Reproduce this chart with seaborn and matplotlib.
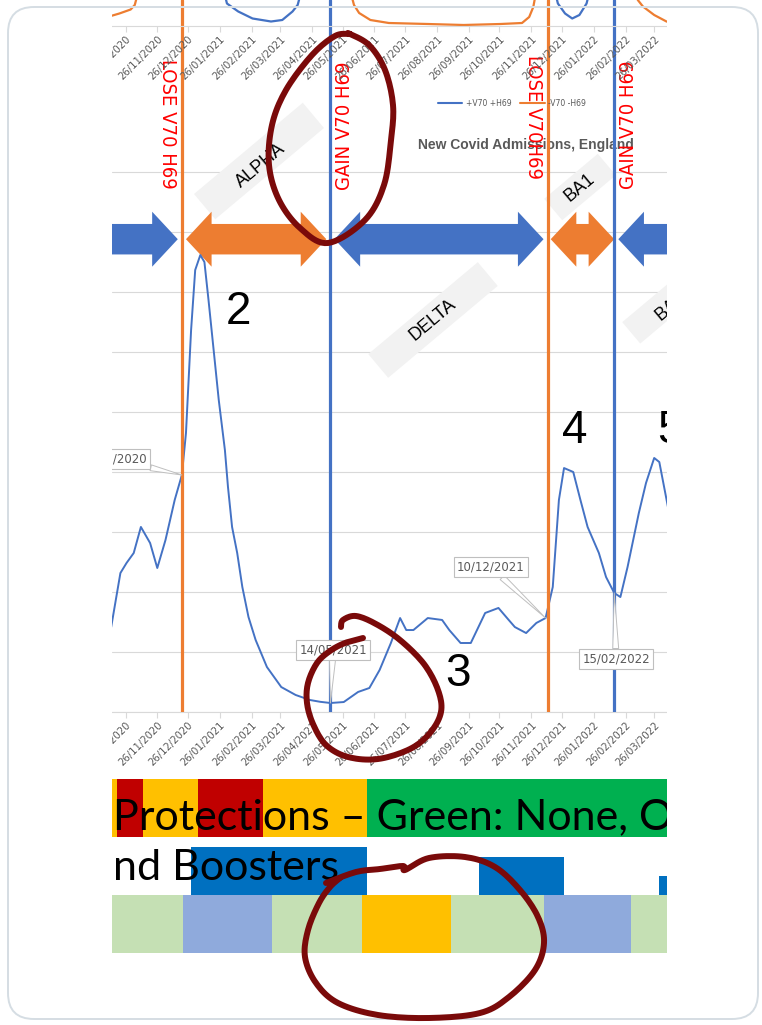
import numpy as np
import pandas as pd
import matplotlib
matplotlib.use('Agg')
import matplotlib.pyplot as plt
import matplotlib.dates as mdates
import matplotlib.transforms as mtransforms
from matplotlib.patches import Polygon, Rectangle, FancyBboxPatch
from matplotlib.lines import Line2D
from matplotlib import font_manager
import seaborn as sns

sns.set_style("white")
plt.rcParams['font.family'] = ['DejaVu Sans']

W, H = 762, 1025
BLUE, ORANGE = '#4472C4', '#ED7D31'

# ---------------- data ----------------
# New Covid admissions, England (daily, 7-day smoothed)
adm_dates = ['2020-10-12', '2020-10-21', '2020-10-27', '2020-11-03', '2020-11-10', '2020-11-19',
             '2020-11-26', '2020-12-04', '2020-12-13', '2020-12-20', '2020-12-24', '2020-12-29',
             '2021-01-02', '2021-01-07', '2021-01-11', '2021-01-15', '2021-01-20', '2021-01-25',
             '2021-01-31', '2021-02-03', '2021-02-07', '2021-02-12', '2021-02-17', '2021-02-23',
             '2021-03-02', '2021-03-13', '2021-03-27', '2021-04-10', '2021-04-24', '2021-05-04',
             '2021-05-14', '2021-05-27', '2021-06-10', '2021-06-21', '2021-07-01', '2021-07-12',
             '2021-07-21', '2021-07-27', '2021-08-03', '2021-08-17', '2021-08-31', '2021-09-07',
             '2021-09-18', '2021-09-28', '2021-10-12', '2021-10-25', '2021-11-04', '2021-11-10',
             '2021-11-21', '2021-12-01', '2021-12-10', '2021-12-17', '2021-12-23', '2021-12-28',
             '2022-01-06', '2022-01-13', '2022-01-20', '2022-01-31', '2022-02-07', '2022-02-15',
             '2022-02-21', '2022-02-28', '2022-03-11', '2022-03-18', '2022-03-26', '2022-03-31',
             '2022-04-09']
adm_values = [708, 1158, 1242, 1325, 1542, 1408,
              1200, 1433, 1767, 1975, 2325, 3183,
              3683, 3808, 3750, 3433, 3017, 2600,
              2183, 1875, 1542, 1325, 1042, 792,
              600, 375, 208, 142, 100, 85,
              75, 83, 167, 200, 350, 575,
              783, 683, 683, 783, 767, 683,
              575, 575, 825, 867, 767, 708,
              658, 742, 783, 1042, 1767, 2033,
              2000, 1767, 1542, 1325, 1125, 992,
              958, 1208, 1658, 1908, 2117, 2083,
              1683]

# upper chart (share of sequenced cases, %), only its bottom edge is visible
plus_dates = ['2020-09-25', '2021-01-20', '2021-01-30', '2021-02-02', '2021-02-13', '2021-02-27',
              '2021-03-17', '2021-03-28', '2021-04-07', '2021-04-12', '2021-04-15', '2021-05-01',
              '2021-06-15', '2021-11-15', '2021-12-10', '2021-12-19', '2021-12-22', '2021-12-29',
              '2022-01-05', '2022-01-12', '2022-01-19', '2022-01-22', '2022-02-05', '2022-04-20']
plus_pct = [60, 30, 7, 4.5, 2.9, 1.5,
            0.9, 1.2, 2.9, 4.2, 6.5, 40,
            95, 95, 30, 7, 4.5, 2.5,
            1.5, 2.2, 4.5, 7, 40, 60]
minus_dates = ['2020-10-10', '2020-10-20', '2020-10-31', '2020-11-04', '2020-11-07', '2020-11-25',
               '2021-01-15', '2021-04-15', '2021-05-20', '2021-06-03', '2021-06-06', '2021-06-11',
               '2021-06-22', '2021-07-10', '2021-08-17', '2021-09-21', '2021-10-27', '2021-11-17',
               '2021-11-24', '2021-11-28', '2021-11-30', '2021-12-20', '2022-02-20', '2022-03-07',
               '2022-03-10', '2022-03-15', '2022-03-26', '2022-04-07', '2022-04-15']
minus_pct = [1.9, 2.5, 3.3, 4.2, 6.5, 40,
             95, 95, 30, 6.5, 4.2, 2.6,
             1.2, 0.6, 0.4, 0.2, 0.4, 0.6,
             1.8, 3.8, 6, 60, 60, 7,
             5.2, 3.9, 2.2, 0.9, 0.5]

event_dates = ['2020-12-20', '2021-05-14', '2021-12-12', '2022-02-15']
event_labels = ['LOSE V70 H69', 'GAIN V70 H69', 'LOSE V70H69', 'GAIN V70 H69']
event_gain = [False, True, False, True]

callout_dates = ['2020-12-20', '2021-05-14', '2021-12-10', '2022-02-15']

wave_names = ['ALPHA', 'DELTA', 'BA1', 'BA2']
wave_numbers = ['2', '3', '4', '5']

arrow_start = ['2020-09-01', '2020-12-24', '2021-05-18', '2021-12-15', '2022-02-19']
arrow_end = ['2020-12-16', '2021-05-10', '2021-12-08', '2022-02-15', '2022-06-01']
arrow_plus = [True, False, True, False, True]
arrow_heads = ['end', 'both', 'both', 'both', 'start']

protect_start = ['2020-09-01', '2020-10-18', '2020-11-12', '2021-01-05', '2021-03-09', '2021-06-19']
protect_level = ['Orange', 'Red', 'Orange', 'Red', 'Orange', 'Green']
booster_start = ['2020-12-29', '2021-10-06', '2022-03-31']
booster_end = ['2021-06-19', '2021-12-28', '2022-06-01']
booster_level = [1.0, 0.8, 0.4]
phase_start = ['2020-09-01', '2020-12-21', '2021-03-18', '2021-06-14', '2021-09-09', '2021-12-08', '2022-03-03']
phase_kind = ['green', 'blue', 'green', 'amber', 'green', 'blue', 'green']

# ---------------- layout helpers ----------------
fig = plt.figure(figsize=(W / 100, H / 100), dpi=100)
fig.patch.set_facecolor('white')
px = mtransforms.Affine2D().scale(1 / W, -1 / H).translate(0, 1) + fig.transFigure

# red labels are set in a narrow face in the original; pick the closest that is installed
fonts = font_manager.fontManager.ttflist
avail = {f.name for f in fonts}
if 'Liberation Sans Narrow' in avail:
    red_kw = dict(family=['Liberation Sans Narrow', 'DejaVu Sans'], fontsize=15)
elif any(f.name == 'DejaVu Sans' and f.stretch == 'condensed' for f in fonts):
    red_kw = dict(family=['DejaVu Sans'], fontstretch='condensed', fontsize=14.5)
else:
    red_kw = dict(family=['Liberation Sans', 'DejaVu Sans'], fontsize=13)
big_font = ['Lato', 'DejaVu Sans'] if 'Lato' in avail else ['DejaVu Sans']

d0 = mdates.date2num(pd.Timestamp('2020-10-26'))
xlo, xhi = d0 - 13.2, d0 + 528.5
dn = lambda s: mdates.date2num(pd.Timestamp(s))


def style_date_axis(a):
    a.set_xlim(xlo, xhi)
    a.xaxis.set_major_locator(mdates.MonthLocator(bymonthday=26))
    a.xaxis.set_major_formatter(mdates.DateFormatter('%d/%m/%Y'))
    a.tick_params(axis='x', labelsize=7.2, labelcolor='#595959', color='#D9D9D9',
                  length=4, width=0.8, pad=2, direction='out', bottom=True)
    plt.setp(a.get_xticklabels(), rotation=45, ha='right', rotation_mode='anchor')
    for s in ['top', 'left', 'right']:
        a.spines[s].set_visible(False)
    a.spines['bottom'].set_color('#D9D9D9')
    a.set_xlabel('')
    a.set_ylabel('')


# ---------------- main chart ----------------
ax = fig.add_axes([112 / W, 1 - 712 / H, 555 / W, 712 / H])
ax.set_facecolor('none')
adm = pd.DataFrame({'date': pd.to_datetime(adm_dates), 'admissions': adm_values})
sns.lineplot(data=adm, x='date', y='admissions', ax=ax, color=BLUE, lw=1.4, zorder=3)
ax.set_ylim(0, 712 * 500 / 60)
ax.set_yticks(np.arange(0, 5000, 500))
ax.yaxis.grid(True, color='#D9D9D9', lw=0.8)
ax.tick_params(axis='y', length=0, labelleft=False)
style_date_axis(ax)

# variant periods as block arrows
arrow_level, sh, hh, hl = 3940, 127, 229, 25
for s, e, plus, heads in zip(arrow_start, arrow_end, arrow_plus, arrow_heads):
    x0, x1, yc = dn(s), dn(e), arrow_level
    pts = []
    if heads in ('start', 'both'):
        pts += [(x0, yc), (x0 + hl, yc + hh), (x0 + hl, yc + sh)]
    else:
        pts += [(x0, yc + sh)]
    if heads in ('end', 'both'):
        pts += [(x1 - hl, yc + sh), (x1 - hl, yc + hh), (x1, yc), (x1 - hl, yc - hh), (x1 - hl, yc - sh)]
    else:
        pts += [(x1, yc + sh), (x1, yc - sh)]
    if heads in ('start', 'both'):
        pts += [(x0 + hl, yc - sh), (x0 + hl, yc - hh)]
    else:
        pts += [(x0, yc - sh)]
    ax.add_patch(Polygon(pts, closed=True, fc=BLUE if plus else ORANGE, ec='none', zorder=2))

# event lines + red labels
label_mid_y = [124, 126, 117, 125]
for d, lab, gain, my in zip(event_dates, event_labels, event_gain, label_mid_y):
    ax.axvline(dn(d), color=BLUE if gain else ORANGE, lw=2.3, zorder=4)
    off = mtransforms.ScaledTranslation((14 if gain else -14) / 100, 0, fig.dpi_scale_trans)
    tr = mtransforms.blended_transform_factory(ax.transData, px) + off
    ax.text(dn(d), my, lab, transform=tr, rotation=90 if gain else -90, color='#FF0000',
            ha='center', va='center', zorder=6, **red_kw)

# date call-outs on the curve
callout_pos = [(113, 459), (333, 650), (491, 567), (616, 659)]
xs = mdates.date2num(adm['date'])
for d, (tx, ty) in zip(callout_dates, callout_pos):
    yv = np.interp(dn(d), xs, adm_values)
    ax.annotate(pd.Timestamp(d).strftime('%d/%m/%Y'), xy=(dn(d), yv), xycoords='data',
                xytext=(tx, ty), textcoords=px, ha='center', va='center', fontsize=8.5,
                color='#595959', zorder=7,
                bbox=dict(boxstyle='square,pad=0.3', fc='white', ec='#BFBFBF', lw=0.8),
                arrowprops=dict(arrowstyle='wedge,tail_width=0.5', fc='white', ec='#BFBFBF',
                                lw=0.7, shrinkA=0, shrinkB=0))

# wave name boxes
box_geom = [(259, 161, 142, 33), (433, 320, 143, 31), (580, 187, 70, 28), (668, 302, 96, 28)]
text_pos = [(261, 166), (433, 320), (580, 188), (671, 307)]
for name, (cx, cy, bl, bw), (tx, ty) in zip(wave_names, box_geom, text_pos):
    ax.add_patch(Rectangle((cx - bl / 2, cy - bw / 2), bl, bw, angle=-40, rotation_point='center',
                           transform=px, fc='#F2F2F2', ec='none', zorder=1))
    ax.text(tx, ty, name, transform=px, rotation=40, ha='center', va='center', fontsize=13,
            family=['Liberation Sans', 'DejaVu Sans'], color='black', zorder=2)

# wave numbers
num_pos = [(238, 312), (458, 674), (575, 431), (670, 431)]
for n, (nx, ny) in zip(wave_numbers, num_pos):
    ax.text(nx, ny, n, transform=px, ha='center', va='center', fontsize=33,
            family=['Liberation Sans', 'DejaVu Sans'], color='black', zorder=6)

ax.text(526, 145, 'New Covid Admissions, England', transform=px, ha='center', va='center',
        fontsize=10, fontweight='bold', color='#595959', family=['Liberation Sans', 'DejaVu Sans'])

# ---------------- upper chart strip ----------------
ax_top = fig.add_axes([112 / W, 1 - 26 / H, 555 / W, 26 / H])
ax_top.set_facecolor('none')
sns.lineplot(x=pd.to_datetime(plus_dates), y=plus_pct, ax=ax_top, color=BLUE, lw=1.6)
sns.lineplot(x=pd.to_datetime(minus_dates), y=minus_pct, ax=ax_top, color=ORANGE, lw=1.6)
ax_top.set_ylim(0, 5.2)
ax_top.set_yticks([])
style_date_axis(ax_top)

fig.legend(handles=[Line2D([], [], color=BLUE, lw=1.5), Line2D([], [], color=ORANGE, lw=1.5)],
           labels=['+V70 +H69', '-V70 -H69'], loc='center left', bbox_to_anchor=(438 / W, 1 - 103 / H),
           ncol=2, frameon=False, fontsize=5.5, handlelength=3.2, handletextpad=0.4,
           columnspacing=1.2, labelcolor='#595959', borderpad=0, borderaxespad=0)

# ---------------- protection / booster bands ----------------
ax_bar = fig.add_axes([112 / W, 1 - 960 / H, 555 / W, 190 / H])
ax_bar.set_xlim(xlo, xhi)
ax_bar.set_ylim(960, 770)
ax_bar.axis('off')
level_col = {'Red': '#C00000', 'Orange': '#FFC000', 'Green': '#00B050'}
edges = [dn(s) for s in protect_start] + [xhi + 60]
for i, lev in enumerate(protect_level):
    ax_bar.bar(edges[i], 58, width=edges[i + 1] - edges[i], bottom=779, align='edge',
               color=level_col[lev], lw=0)
for s, e, lv in zip(booster_start, booster_end, booster_level):
    ax_bar.bar(dn(s), 48 * lv, width=dn(e) - dn(s), bottom=895 - 48 * lv, align='edge',
               color='#0070C0', lw=0)
phase_col = {'green': '#C5E0B4', 'blue': '#8FAADC', 'amber': '#FFC000'}
edges = [dn(s) for s in phase_start] + [xhi + 60]
for i, k in enumerate(phase_kind):
    ax_bar.bar(edges[i], 58, width=edges[i + 1] - edges[i], bottom=895, align='edge',
               color=phase_col[k], lw=0)
ax_bar.text(113, 830, 'Protections \u2013 Green: None, Orange', transform=px, fontsize=31,
            family=big_font, color='black', va='baseline', ha='left', clip_on=True)
ax_bar.text(113, 880, 'nd Boosters', transform=px, fontsize=31,
            family=big_font, color='black', va='baseline', ha='left', clip_on=True)

# ---------------- overlay: crop mask, frame, hand-drawn rings ----------------
ax_ov = fig.add_axes([0, 0, 1, 1], zorder=10)
ax_ov.set_xlim(0, W)
ax_ov.set_ylim(H, 0)
ax_ov.axis('off')
ax_ov.set_facecolor('none')
ax_ov.add_patch(Rectangle((14, 12), 112 - 14, 1000, fc='white', ec='none', zorder=1))
ax_ov.add_patch(Rectangle((667, 12), 754 - 667, 1000, fc='white', ec='none', zorder=1))
ax_ov.add_patch(FancyBboxPatch((8, 7), 750, 1012, boxstyle='round,pad=0,rounding_size=26',
                               fc='none', ec='#D5DDE3', lw=1.4, zorder=2))


def smooth(pts, n=10):
    p = np.asarray(pts, float)
    p = np.vstack([p[0], p, p[-1]])
    out = []
    t = np.linspace(0, 1, n, endpoint=False)[:, None]
    for i in range(1, len(p) - 2):
        p0, p1, p2, p3 = p[i - 1], p[i], p[i + 1], p[i + 2]
        out.append(0.5 * (2 * p1 + (-p0 + p2) * t + (2 * p0 - 5 * p1 + 4 * p2 - p3) * t ** 2
                          + (-p0 + 3 * p1 - 3 * p2 + p3) * t ** 3))
    out.append(p[-2][None])
    return np.vstack(out)


rings = [
    [(348, 33), (369, 45), (385, 70), (393, 105), (391, 140), (384, 185), (365, 220), (328, 243),
     (300, 228), (279, 200), (269, 165), (272, 125), (286, 90), (312, 55), (335, 36), (350, 34)],
    [(363, 638), (345, 643), (330, 651), (317, 663), (308, 683), (307, 703), (313, 724), (326, 745),
     (348, 757), (378, 759), (410, 749), (430, 733), (441, 712), (438, 690), (424, 664), (400, 640),
     (376, 624), (356, 616), (343, 620), (341, 627)],
    [(326, 883), (356, 872), (380, 869), (403, 866), (405, 870), (429, 858), (465, 857), (495, 867),
     (520, 890), (538, 917), (544, 943), (535, 970), (509, 997), (480, 1013), (429, 1018),
     (378, 1015), (338, 1003), (316, 983), (305, 957), (308, 930), (319, 903), (330, 887), (340, 878)],
]
for r in rings:
    c = smooth(r)
    ax_ov.plot(c[:, 0], c[:, 1], color='#7A0A0A', lw=4.3, solid_capstyle='round',
               solid_joinstyle='round', zorder=3)

fig.savefig('out.png', dpi=100, facecolor='white')
